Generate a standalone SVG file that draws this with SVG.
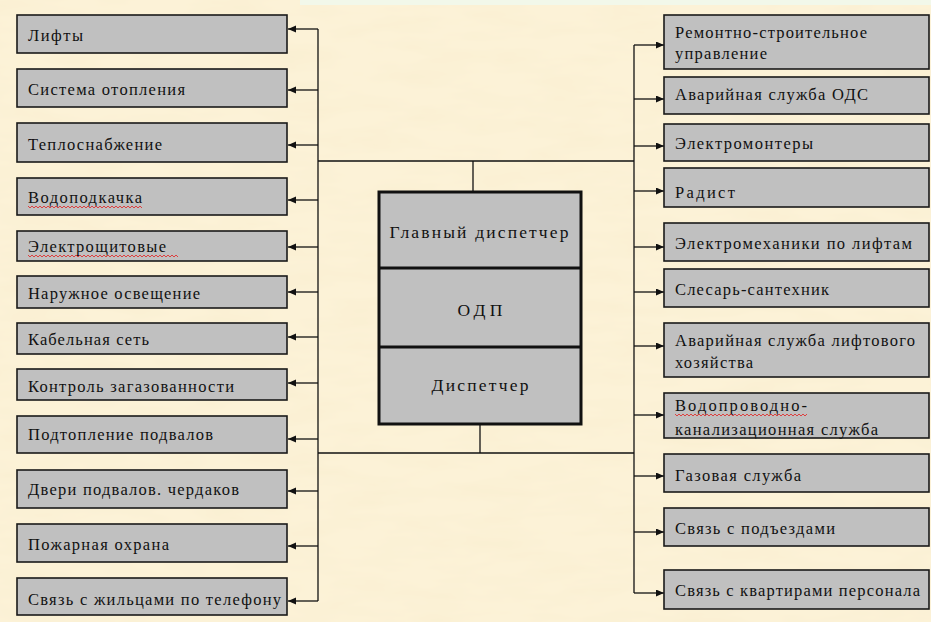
<svg xmlns="http://www.w3.org/2000/svg" width="931" height="622" viewBox="0 0 931 622">
<style>
.box{fill:#c0c0c0;stroke:#1a1a1a;stroke-width:1.6}
.cbox{fill:#c0c0c0;stroke:#111;stroke-width:3}
.t{font-family:'Liberation Serif',serif;font-size:16.5px;fill:#111}
.ct{font-family:'Liberation Serif',serif;font-size:17.5px;text-anchor:middle;fill:#111}
.ln{fill:none;stroke:#111;stroke-width:1.3}
.sq{fill:none;stroke:#e03030;stroke-width:0.9}
</style>
<defs>
<marker id="ah" markerUnits="userSpaceOnUse" markerWidth="9" markerHeight="8" refX="8" refY="3.5" orient="auto">
<path d="M0,0 L8,3.5 L0,7 z" fill="#111"/>
</marker>
<filter id="paper" x="0" y="0" width="100%" height="100%">
<feTurbulence type="fractalNoise" baseFrequency="0.015 0.06" numOctaves="3" seed="4"/>
<feColorMatrix type="matrix" values="0 0 0 0 0.92  0 0 0 0 0.82  0 0 0 0 0.58  0.6 0 0 0 -0.22"/>
</filter>
</defs>
<rect x="0" y="0" width="931" height="622" fill="#fcf2d7"/>
<rect x="0" y="0" width="931" height="622" filter="url(#paper)"/>
<rect x="300" y="0" width="631" height="5" fill="#f2f8ea"/>

<g id="connectors">
<path class="ln" d="M318,29 V601"/>
<path class="ln" d="M634,45 V593"/>
<path class="ln" d="M318,161 H634"/>
<path class="ln" d="M318,453 H634"/>
<path class="ln" d="M473,161 V192"/>
<path class="ln" d="M480,424 V453"/>
<g marker-end="url(#ah)">
<path class="ln" d="M318,29 H288"/>
<path class="ln" d="M318,90 H288"/>
<path class="ln" d="M318,145 H288"/>
<path class="ln" d="M318,200 H288"/>
<path class="ln" d="M318,247 H288"/>
<path class="ln" d="M318,292 H288"/>
<path class="ln" d="M318,337 H288"/>
<path class="ln" d="M318,383 H288"/>
<path class="ln" d="M318,439 H288"/>
<path class="ln" d="M318,491 H288"/>
<path class="ln" d="M318,546 H288"/>
<path class="ln" d="M318,601 H288"/>
<path class="ln" d="M634,45 H664"/>
<path class="ln" d="M634,99 H664"/>
<path class="ln" d="M634,146 H664"/>
<path class="ln" d="M634,191 H664"/>
<path class="ln" d="M634,247 H664"/>
<path class="ln" d="M634,292 H664"/>
<path class="ln" d="M634,346 H664"/>
<path class="ln" d="M634,415 H664"/>
<path class="ln" d="M634,476 H664"/>
<path class="ln" d="M634,532 H664"/>
<path class="ln" d="M634,593 H664"/>
</g>
</g>

<g id="center">
<rect class="cbox" x="379" y="192" width="202" height="232"/>
<line x1="379" y1="268" x2="581" y2="268" stroke="#111" stroke-width="3"/>
<line x1="379" y1="347" x2="581" y2="347" stroke="#111" stroke-width="3"/>
<text class="ct" x="479" y="238" textLength="179">Главный диспетчер</text>
<text class="ct" x="480" y="316" textLength="45">ОДП</text>
<text class="ct" x="480" y="391" textLength="97">Диспетчер</text>
</g>

<g id="l1"><rect class="box" x="17" y="15" width="270" height="38"/><text class="t" x="28" y="41" textLength="55">Лифты</text></g>
<g id="l2"><rect class="box" x="17" y="69" width="270" height="38"/><text class="t" x="28" y="95" textLength="157">Система отопления</text></g>
<g id="l3"><rect class="box" x="17" y="123" width="270" height="39"/><text class="t" x="28" y="149.5" textLength="134">Теплоснабжение</text></g>
<g id="l4"><rect class="box" x="17" y="178" width="270" height="37"/><text class="t" x="28" y="203" textLength="114">Водоподкачка</text>
<path class="sq" d="M28,206 l2,2 l2,-2 l2,2 l2,-2 l2,2 l2,-2 l2,2 l2,-2 l2,2 l2,-2 l2,2 l2,-2 l2,2 l2,-2 l2,2 l2,-2 l2,2 l2,-2 l2,2 l2,-2 l2,2 l2,-2 l2,2 l2,-2 l2,2 l2,-2 l2,2 l2,-2 l2,2 l2,-2 l2,2 l2,-2 l2,2 l2,-2 l2,2 l2,-2 l2,2 l2,-2 l2,2 l2,-2 l2,2 l2,-2 l2,2 l2,-2 l2,2 l2,-2 l2,2 l2,-2 l2,2 l2,-2 l2,2 l2,-2 l2,2 l2,-2 l2,2 l2,-2 l2,2"/></g>
<g id="l5"><rect class="box" x="17" y="231" width="270" height="30"/><text class="t" x="28" y="252" textLength="138">Электрощитовые</text>
<path class="sq" d="M28,255 l2,2 l2,-2 l2,2 l2,-2 l2,2 l2,-2 l2,2 l2,-2 l2,2 l2,-2 l2,2 l2,-2 l2,2 l2,-2 l2,2 l2,-2 l2,2 l2,-2 l2,2 l2,-2 l2,2 l2,-2 l2,2 l2,-2 l2,2 l2,-2 l2,2 l2,-2 l2,2 l2,-2 l2,2 l2,-2 l2,2 l2,-2 l2,2 l2,-2 l2,2 l2,-2 l2,2 l2,-2 l2,2 l2,-2 l2,2 l2,-2 l2,2 l2,-2 l2,2 l2,-2 l2,2 l2,-2 l2,2 l2,-2 l2,2 l2,-2 l2,2 l2,-2 l2,2 l2,-2 l2,2 l2,-2 l2,2 l2,-2 l2,2 l2,-2 l2,2 l2,-2 l2,2 l2,-2 l2,2 l2,-2 l2,2 l2,-2 l2,2 l2,-2 l2,2"/></g>
<g id="l6"><rect class="box" x="17" y="276" width="270" height="32"/><text class="t" x="28" y="299" textLength="172">Наружное освещение</text></g>
<g id="l7"><rect class="box" x="17" y="323" width="270" height="31"/><text class="t" x="28" y="345" textLength="121">Кабельная сеть</text></g>
<g id="l8"><rect class="box" x="17" y="369" width="270" height="31"/><text class="t" x="28" y="392" textLength="206">Контроль загазованности</text></g>
<g id="l9"><rect class="box" x="17" y="416" width="270" height="37"/><text class="t" x="28" y="440" textLength="185">Подтопление подвалов</text></g>
<g id="l10"><rect class="box" x="17" y="470" width="270" height="38"/><text class="t" x="28" y="495" textLength="211">Двери подвалов. чердаков</text></g>
<g id="l11"><rect class="box" x="17" y="524" width="270" height="38"/><text class="t" x="28" y="550" textLength="141">Пожарная охрана</text></g>
<g id="l12"><rect class="box" x="17" y="578" width="270" height="37"/><text class="t" x="28" y="605" textLength="253">Связь с жильцами по телефону</text></g>

<g id="r1"><rect class="box" x="664" y="15" width="265" height="54"/><text class="t" x="675" y="38" textLength="192">Ремонтно-строительное</text><text class="t" x="675" y="59" textLength="92">управление</text></g>
<g id="r2"><rect class="box" x="664" y="77" width="265" height="37"/><text class="t" x="675" y="100" textLength="193">Аварийная служба ОДС</text></g>
<g id="r3"><rect class="box" x="664" y="124" width="265" height="37"/><text class="t" x="675" y="149" textLength="138">Электромонтеры</text></g>
<g id="r4"><rect class="box" x="664" y="168" width="265" height="39"/><text class="t" x="675" y="198" textLength="60">Радист</text></g>
<g id="r5"><rect class="box" x="664" y="223" width="265" height="38"/><text class="t" x="675" y="249" textLength="237">Электромеханики по лифтам</text></g>
<g id="r6"><rect class="box" x="664" y="269" width="265" height="38"/><text class="t" x="675" y="295" textLength="154">Слесарь-сантехник</text></g>
<g id="r7"><rect class="box" x="664" y="323" width="265" height="54"/><text class="t" x="675" y="346" textLength="240">Аварийная служба лифтового</text><text class="t" x="675" y="368" textLength="78">хозяйства</text></g>
<g id="r8"><rect class="box" x="664" y="393" width="265" height="45"/><text class="t" x="675" y="411" textLength="132">Водопроводно-</text><text class="t" x="675" y="435" textLength="203">канализационная служба</text>
<path class="sq" d="M675,414 l2,2 l2,-2 l2,2 l2,-2 l2,2 l2,-2 l2,2 l2,-2 l2,2 l2,-2 l2,2 l2,-2 l2,2 l2,-2 l2,2 l2,-2 l2,2 l2,-2 l2,2 l2,-2 l2,2 l2,-2 l2,2 l2,-2 l2,2 l2,-2 l2,2 l2,-2 l2,2 l2,-2 l2,2 l2,-2 l2,2 l2,-2 l2,2 l2,-2 l2,2 l2,-2 l2,2 l2,-2 l2,2 l2,-2 l2,2 l2,-2 l2,2 l2,-2 l2,2 l2,-2 l2,2 l2,-2 l2,2 l2,-2 l2,2 l2,-2 l2,2 l2,-2 l2,2 l2,-2 l2,2 l2,-2 l2,2 l2,-2 l2,2 l2,-2 l2,2 l2,-2"/></g>
<g id="r9"><rect class="box" x="664" y="454" width="265" height="38"/><text class="t" x="675" y="481" textLength="126">Газовая служба</text></g>
<g id="r10"><rect class="box" x="664" y="508" width="265" height="38"/><text class="t" x="675" y="534" textLength="160">Связь с подъездами</text></g>
<g id="r11"><rect class="box" x="664" y="570" width="265" height="39"/><text class="t" x="675" y="596" textLength="245">Связь с квартирами персонала</text></g>
</svg>
